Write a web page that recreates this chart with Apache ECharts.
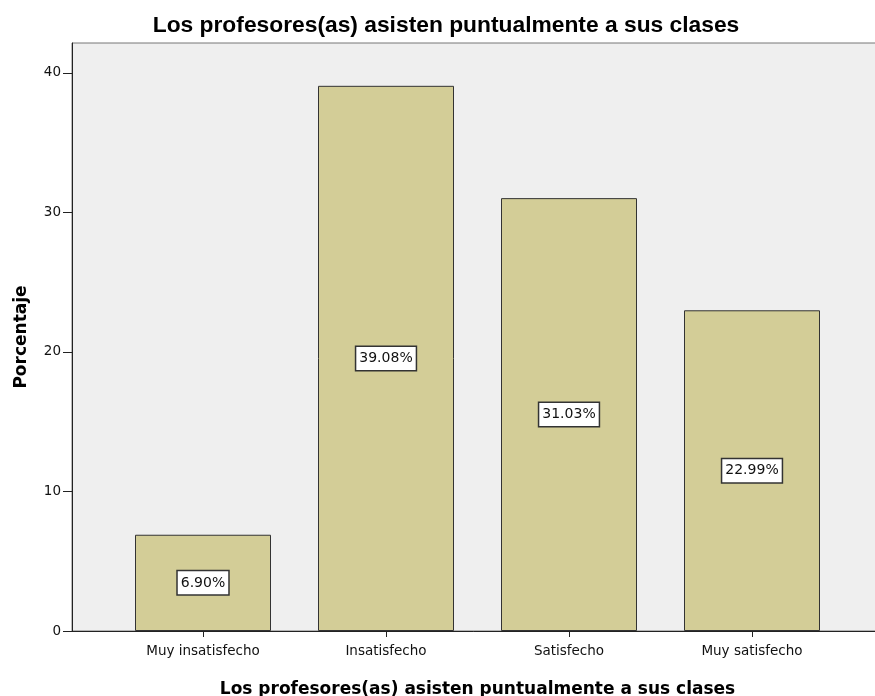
<!DOCTYPE html>
<html>
<head>
<meta charset="UTF-8">
<title>Los profesores(as) asisten puntualmente a sus clases</title>
<style type="text/css">
    body,html{ margin:0; padding:0; width:100vw; height:100vh; overflow:hidden; background:#fff;}
    #chart{ width:875px; height:696px;}
</style>
</head>
<body>
<div id="chart"></div>
<script src="https://cdn.jsdelivr.net/npm/echarts@6/dist/echarts.min.js"></script>
<script type="text/javascript">
var titulo = 'Los profesores(as) asisten puntualmente a sus clases';
var categorias = ['Muy insatisfecho', 'Insatisfecho', 'Satisfecho', 'Muy satisfecho'];
var porcentajes = [6.90, 39.08, 31.03, 22.99];
var yTicks = [0, 10, 20, 30, 40];

var fontA = '"Liberation Sans", Arial, sans-serif';
var fontD = '"DejaVu Sans", sans-serif';
var yMax = 42.15;

var myChart = echarts.init(document.getElementById('chart'));
var option = {
    animation: false,
    title: {
        text: titulo,
        left: 441, top: 9, textAlign: 'center',
        textStyle: { fontFamily: fontA, fontSize: 22.8, fontWeight: 'bold', color: '#000' }
    },
    grid: [
        // marco y fondo gris
        { left: 72, top: 43, width: 811, height: 588, show: true, outerBoundsMode: 'none',
          backgroundColor: '#efefef', borderColor: '#777', borderWidth: 1 },
        // categorias centradas con margen
        { left: 111.5, top: 43, width: 732, height: 588, outerBoundsMode: 'none' }
    ],
    xAxis: [
        { gridIndex: 0, type: 'value', min: 0, max: 1,
          axisLine: { show: true, onZero: false, lineStyle: { color: '#222' } },
          axisTick: { show: false }, axisLabel: { show: false }, splitLine: { show: false } },
        { gridIndex: 1, type: 'category', data: categorias,
          axisLine: { show: false },
          axisTick: { show: true, alignWithLabel: true, length: 6, lineStyle: { color: '#222' } },
          axisLabel: { color: '#111', fontFamily: fontD, fontSize: 13.5, margin: 13 },
          name: titulo, nameLocation: 'middle', nameGap: 50,
          nameTextStyle: { fontFamily: fontD, fontSize: 17, fontWeight: 'bold', color: '#000' } }
    ],
    yAxis: [
        { gridIndex: 0, type: 'value', min: 0, max: yMax, interval: 10,
          axisLine: { show: true, lineStyle: { color: '#222' } },
          axisTick: { show: true, length: 9, lineStyle: { color: '#222' } },
          axisLabel: { color: '#111', fontFamily: fontD, fontSize: 13.5, margin: 11, showMaxLabel: false,
                       formatter: function (v) { return yTicks.indexOf(v) >= 0 ? v : ''; } },
          splitLine: { show: false },
          name: 'Porcentaje', nameLocation: 'middle', nameGap: 42, nameRotate: 90,
          nameTextStyle: { fontFamily: fontD, fontSize: 17, fontWeight: 'bold', color: '#000' } },
        { gridIndex: 1, type: 'value', min: 0, max: yMax, show: false }
    ],
    series: [{
        type: 'bar',
        xAxisIndex: 1, yAxisIndex: 1,
        barWidth: 136,
        data: porcentajes,
        itemStyle: { color: '#d3cd97', borderColor: '#333', borderWidth: 1 },
        label: {
            show: true, position: 'inside',
            formatter: function (p) { return p.value.toFixed(2) + '%'; },
            fontFamily: fontD, fontSize: 14, color: '#111', lineHeight: 16,
            backgroundColor: '#fff', borderColor: '#333', borderWidth: 1.5,
            padding: [4, 3, 3, 3]
        }
    }]
};
myChart.setOption(option);
</script>
</body>
</html>
